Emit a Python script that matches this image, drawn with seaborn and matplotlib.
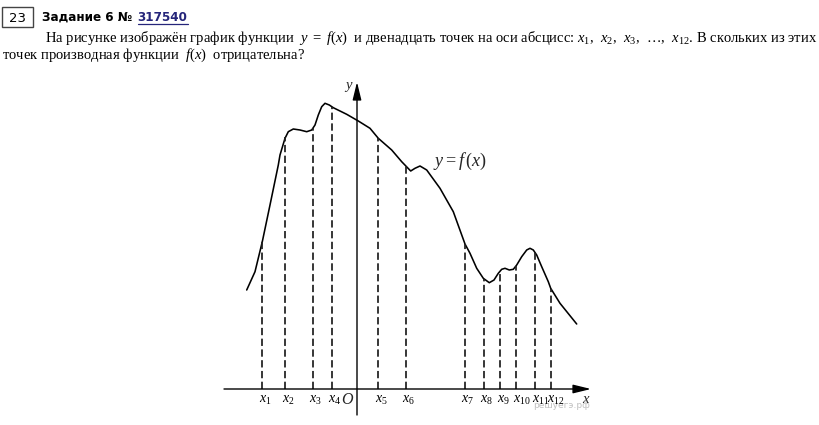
import matplotlib
matplotlib.use('Agg')
import matplotlib.pyplot as plt
import seaborn as sns
import numpy as np
import pandas as pd
from matplotlib.patches import Rectangle

# ---------------- data (origin at O) ----------------
curve_x = [-110.3, -102, -94.7, -87, -78.7, -77, -72, -68.7, -63.7, -57, -50.3,
           -45.3, -42, -38.7, -35.3, -32, -27.7, -23.7, -10.3, 1.3, 13, 21.3,
           34.7, 44.7, 53.7, 58, 63, 69.7, 83, 96.3, 108, 113, 119.7, 126.3,
           132.3, 137, 141.3, 144.7, 148, 152.3, 156.3, 159.7, 164.7, 169.7, 173,
           176.3, 179.7, 184.7, 191.3, 193.7, 203, 219.7]
curve_y = [99, 117.3, 147.3, 184, 224, 234, 250.7, 257.3, 260, 259, 257.3,
           259, 264, 274, 282.3, 285.7, 284, 281.3, 274.7, 268, 260.7, 250.7,
           239, 227.3, 218, 220.7, 223, 219, 200.7, 177.3, 145, 135.7, 120.7, 110.7,
           106.3, 109, 115.7, 119.7, 120.7, 119, 119.7, 124, 132.3, 139, 140.7,
           139, 134, 122.3, 107.3, 100.7, 85.7, 65]
tick_x = [-94.5, -71.5, -44, -25, 21.5, 49, 108, 126.7, 143.3, 159.3, 178.5, 194]
tick_labels = [r'$x_{1}$', r'$x_{2}$', r'$x_{3}$', r'$x_{4}$', r'$x_{5}$', r'$x_{6}$',
               r'$x_{7}$', r'$x_{8}$', r'$x_{9}$', r'$x_{10}$', r'$x_{11}$', r'$x_{12}$']

task_num = '23'
task_title = 'Задание 6 №'
task_id = '317540'
line1 = ('На рисунке изображён график функции  $y\\ =\\ f(x)$  и двенадцать точек на оси '
         'абсцисс: $x_1$,  $x_2$,  $x_3$,  …,  $x_{12}$. В скольких из этих')
line2 = 'точек производная функции  $f(x)$  отрицательна?'
func_label = r'$y = f\,(x)$'
watermark = 'решуегэ.рф'

# ---------------- style ----------------
sns.set_theme(style='white')
plt.rcParams['font.family'] = ['Liberation Serif', 'DejaVu Sans']
plt.rcParams['mathtext.fontset'] = 'custom'
plt.rcParams['mathtext.rm'] = 'Liberation Serif'
plt.rcParams['mathtext.it'] = 'Liberation Serif:italic'
plt.rcParams['mathtext.bf'] = 'Liberation Serif:bold'

OX, OY = 357, 389   # pixel position of the origin
W, H = 820, 425

fig = plt.figure(figsize=(W / 100, H / 100), dpi=100)
fig.patch.set_facecolor('white')
ax = fig.add_axes([0, 0, 1, 1])

def P(px, py):
    return px - OX, OY - py

renderer = fig.canvas.get_renderer()

def fit(t, target):
    w = t.get_window_extent(renderer).width
    t.set_fontsize(t.get_fontsize() * target / w)
    return t

# curve
df = pd.DataFrame({'x': curve_x, 'y': curve_y})
sns.lineplot(data=df, x='x', y='y', sort=False, estimator=None, color='black',
             lw=1.15, ax=ax, solid_joinstyle='round', solid_capstyle='round')

# dashed verticals
tops = np.interp(tick_x, curve_x, curve_y)
ax.vlines(tick_x, 0, tops, colors='#1e1e1e', lw=1.25, linestyles=(0, (4.2, 2.0)))

# axes with arrows
ax.annotate('', xy=P(591, 389), xytext=P(224, 389),
            arrowprops=dict(arrowstyle='-|>,head_length=0.9,head_width=0.22',
                            lw=1.0, color='black', shrinkA=0, shrinkB=0))
ax.annotate('', xy=P(357, 82), xytext=P(357, 415),
            arrowprops=dict(arrowstyle='-|>,head_length=0.9,head_width=0.22',
                            lw=1.0, color='black', shrinkA=0, shrinkB=0))

# tick labels
for xv, lab in zip(tick_x, tick_labels):
    ax.text(xv - 3.5, P(0, 403)[1], lab, ha='left', va='baseline', fontsize=10,
            color='black')
ax.text(*P(347.2, 404), r'$O$', ha='center', va='baseline', fontsize=11.5)
ax.text(*P(586.5, 403), r'$x$', ha='center', va='baseline', fontsize=10.5)
ax.text(*P(348.5, 89), r'$y$', ha='center', va='baseline', fontsize=10.5)
t = ax.text(*P(433, 166), func_label, ha='left', va='baseline', fontsize=11)
fit(t, 54)

ax.text(*P(533, 408), watermark, ha='left', va='baseline', fontsize=6.5,
        color='#c0c0c0', family='DejaVu Sans', zorder=0)

# header
ax.add_patch(Rectangle(P(2, 27), 31, 20, fill=False, lw=1.0, edgecolor='#444444'))
ax.text(*P(17.5, 21.5), task_num, ha='center', va='baseline', fontsize=9.5,
        family='DejaVu Sans', color='black')
th = ax.text(*P(42, 21), task_title, ha='left', va='baseline', fontsize=8.5,
             family='DejaVu Sans', weight='bold', color='black')
fit(th, 90)
ax.set_xlim(-OX, W - OX)
ax.set_ylim(OY - H, OY)
ax.axis('off')
bb = th.get_window_extent(renderer)
tid = ax.text(bb.x1 - OX + 5.5, P(0, 21)[1], task_id, ha='left', va='baseline',
              fontsize=th.get_fontsize(), family='DejaVu Sans', weight='bold',
              color='#25257a')
bb2 = tid.get_window_extent(renderer)
ax.plot([bb2.x0 - OX, bb2.x1 - OX], [P(0, 23.5)[1]] * 2, color='#25257a', lw=0.9)

t1 = ax.text(*P(45, 41.5), line1, ha='left', va='baseline', fontsize=9.6, color='black')
fit(t1, 773)
ax.text(*P(2, 59), line2, ha='left', va='baseline', fontsize=t1.get_fontsize(),
        color='black')

ax.set_xlim(-OX, W - OX)
ax.set_ylim(OY - H, OY)
ax.axis('off')

fig.savefig('out.png', dpi=100, facecolor='white')
